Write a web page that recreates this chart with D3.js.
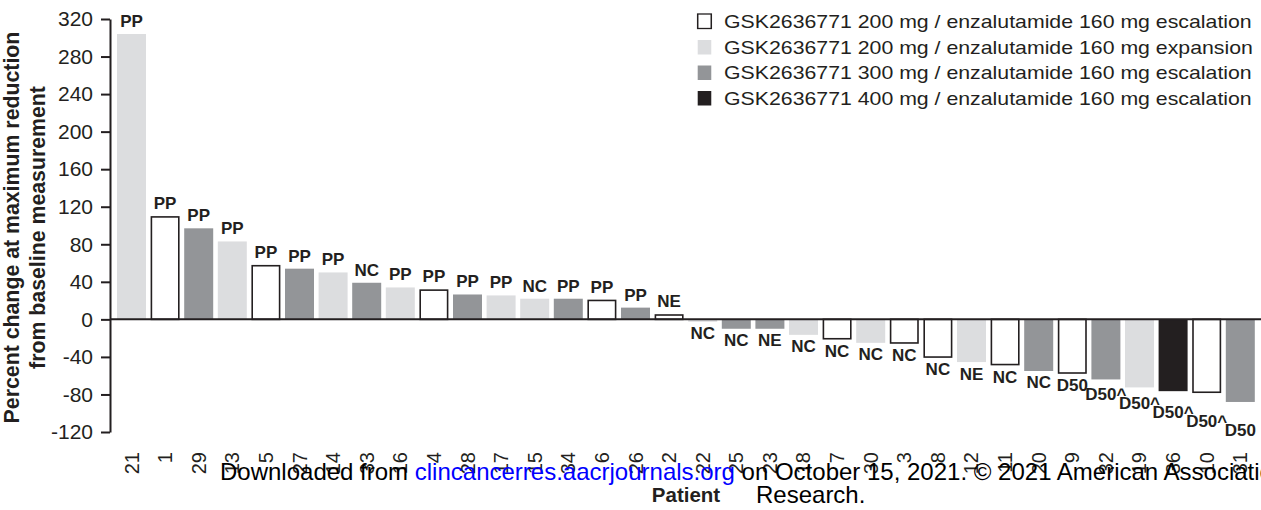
<!DOCTYPE html>
<html>
<head>
<meta charset="utf-8">
<script src="https://cdn.jsdelivr.net/npm/d3@7"></script>
<style>
  body { margin: 0; background: #fff; }
  svg { display: block; font-family: 'Liberation Sans', Arial, sans-serif; }
</style>
</head>
<body>
<svg id="chart"></svg>
<script>
// patient ids, in waterfall order
const patients = ['21', '1', '29', '13', '5', '27', '14', '33', '16', '4', '28', '17', '15', '34', '6', '26', '2',
    '22', '25', '23', '18', '7', '30', '3', '8', '12', '11', '20', '9', '32', '19', '36', '10', '31']

// percent change at maximum reduction from baseline
const changes = [304, 110, 97, 83, 58, 54, 50, 39, 34, 32, 26.5, 25.5, 22, 22, 21, 12.5, 5.5,
    -2.5, -10, -10, -16.5, -21.5, -25, -26, -41, -45.5, -49, -55, -58, -64, -72.5, -76.5, -78.5, -88]

// cohort index per bar (see cohortLabels)
const cohorts = [1, 0, 2, 1, 0, 2, 1, 2, 1, 0, 2, 1, 1, 2, 0, 2, 0,
    1, 2, 2, 1, 0, 1, 0, 0, 1, 0, 2, 0, 2, 1, 3, 0, 2]

const responses = ['PP', 'PP', 'PP', 'PP', 'PP', 'PP', 'PP', 'NC', 'PP', 'PP', 'PP', 'PP', 'NC', 'PP', 'PP', 'PP', 'NE',
    'NC', 'NC', 'NE', 'NC', 'NC', 'NC', 'NC', 'NC', 'NE', 'NC', 'NC', 'D50', 'D50^', 'D50^', 'D50^', 'D50^', 'D50']

const cohortLabels = [
    'GSK2636771 200 mg / enzalutamide 160 mg escalation',
    'GSK2636771 200 mg / enzalutamide 160 mg expansion',
    'GSK2636771 300 mg / enzalutamide 160 mg escalation',
    'GSK2636771 400 mg / enzalutamide 160 mg escalation'
]

const yTicks = [-120, -80, -40, 0, 40, 80, 120, 160, 200, 240, 280, 320]

const fills = ['#ffffff', '#dcdddf', '#939598', '#231f20']
const ink = '#231f20'

const width = 1261
const height = 510

const svg = d3.select('#chart').attr('width', width).attr('height', height)

const rows = patients.map((id, i) => ({ id, i, value: changes[i], cohort: cohorts[i], label: responses[i] }))

const x = d3.scaleBand()
    .domain(rows.map(d => d.i))
    .range([112.4, 1259.4])
    .paddingInner(0.137)
    .paddingOuter(0.137)

const y = d3.scaleLinear().domain([-120, 320]).range([432, 19])
const bw = x.bandwidth()

// bars
const barGroup = svg.append('g').attr('class', 'bars')
barGroup.selectAll('rect')
    .data(rows)
    .enter().append('rect')
    .attr('x', d => x(d.i) + (d.cohort === 0 ? 0.8 : 0))
    .attr('width', d => bw - (d.cohort === 0 ? 1.6 : 0))
    .attr('y', d => Math.min(y(d.value), y(0)) + (d.cohort === 0 && d.value > 0 ? 0.8 : 0))
    .attr('height', d => Math.abs(y(d.value) - y(0)) - (d.cohort === 0 ? 0.8 : 0))
    .attr('fill', d => fills[d.cohort])
    .attr('stroke', d => d.cohort === 0 ? ink : 'none')
    .attr('stroke-width', 1.6)

// response labels, wide ones under the bars get staggered
let prevY = -Infinity
let prevWide = false
rows.forEach(d => {
    const wide = d.label.length > 2
    let ly
    if (d.value >= 0) {
        ly = y(d.value) - 7
    } else {
        ly = y(d.value) + 17.5
        if (wide && prevWide) ly = Math.max(ly, prevY + 9)
    }
    prevY = ly
    prevWide = wide && d.value < 0
    d.ly = ly
})

svg.append('g').attr('class', 'labels')
    .selectAll('text')
    .data(rows)
    .enter().append('text')
    .attr('x', d => x(d.i) + bw / 2)
    .attr('y', d => d.ly)
    .attr('text-anchor', 'middle')
    .attr('font-size', 17)
    .attr('font-weight', 'bold')
    .attr('fill', ink)
    .text(d => d.label)

// zero line
svg.append('line')
    .attr('x1', 110).attr('x2', width)
    .attr('y1', y(0)).attr('y2', y(0))
    .attr('stroke', ink)
    .attr('stroke-width', 2)

// y axis
const yAxis = svg.append('g')
    .attr('transform', 'translate(110,0)')
    .call(d3.axisLeft(y).tickValues(yTicks).tickFormat(d => String(d))
        .tickSize(9).tickPadding(8).tickSizeOuter(0))
yAxis.select('.domain').attr('stroke', ink).attr('stroke-width', 2)
yAxis.selectAll('.tick line').attr('stroke', ink).attr('stroke-width', 2)
yAxis.selectAll('.tick text')
    .attr('font-size', 21)
    .attr('font-family', "'Liberation Sans', Arial, sans-serif")
    .attr('fill', ink)

// patient tick labels
svg.append('g').attr('class', 'patients')
    .selectAll('text')
    .data(rows)
    .enter().append('text')
    .attr('transform', d => `translate(${x(d.i) + bw / 2},452) rotate(-90)`)
    .attr('text-anchor', 'end')
    .attr('dy', '0.35em')
    .attr('font-size', 20)
    .attr('fill', ink)
    .text(d => d.id)

svg.append('text')
    .attr('x', 686).attr('y', 502)
    .attr('text-anchor', 'middle')
    .attr('font-size', 20.5)
    .attr('font-weight', 'bold')
    .attr('fill', ink)
    .text('Patient')

// y title, two lines
const yTitle = ['Percent change at maximum reduction', 'from baseline measurement']
svg.append('g').selectAll('text')
    .data(yTitle)
    .enter().append('text')
    .attr('transform', (t, i) => `translate(${i === 0 ? 18.5 : 45},227.5) rotate(-90)`)
    .attr('text-anchor', 'middle')
    .attr('font-size', 21.3)
    .attr('font-weight', 'bold')
    .attr('fill', ink)
    .text(t => t)

// legend (text in the figure is a bit wide, so stretch the group)
const legend = svg.append('g').attr('transform', 'translate(697,0) scale(1.17,1)')
const legendY = [21, 47, 72.5, 98]
const items = legend.selectAll('g')
    .data(cohortLabels)
    .enter().append('g')
    .attr('transform', (t, i) => `translate(0,${legendY[i]})`)
items.append('rect')
    .attr('x', 0.6).attr('y', -7)
    .attr('width', 12.8 - 1.2).attr('height', 14.5)
    .attr('fill', (t, i) => fills[i])
    .attr('stroke', (t, i) => i === 0 ? ink : 'none')
    .attr('stroke-width', 1.3)
items.append('text')
    .attr('x', 23.1)
    .attr('dy', '0.36em')
    .attr('font-size', 18.2)
    .attr('fill', ink)
    .text(t => t)

// download watermark printed over the figure
const mark = svg.append('text')
    .attr('x', 220).attr('y', 480)
    .attr('font-size', 24)
    .attr('fill', '#000')
mark.append('tspan').text('Downloaded from ')
mark.append('tspan').attr('fill', '#0000ff').text('clincancerres.aacrjournals.org')
mark.append('tspan').text(' on October 15, 2021. © 2021 American Association for Cancer')
svg.append('text')
    .attr('x', 756).attr('y', 503)
    .attr('font-size', 24)
    .attr('fill', '#000')
    .text('Research.')
</script>
</body>
</html>
